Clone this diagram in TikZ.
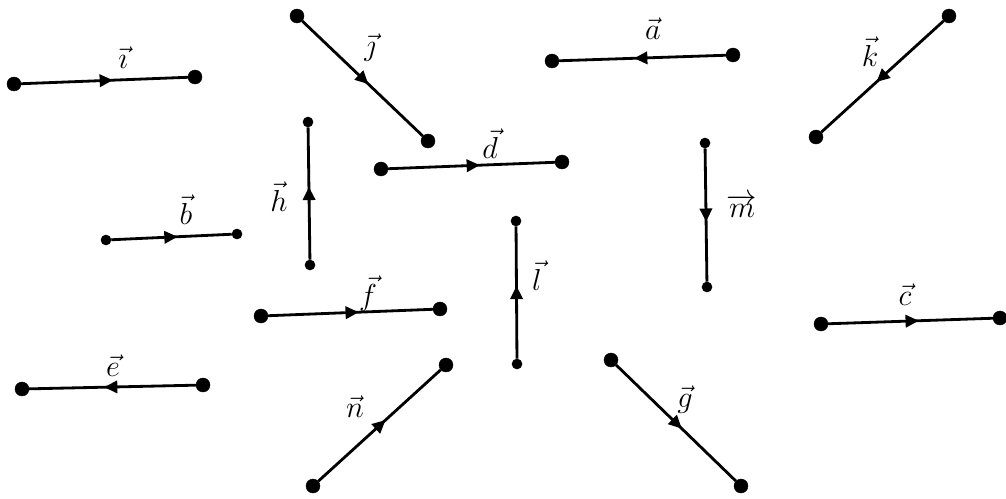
\documentclass[tikz,border=0pt]{standalone}
\usetikzlibrary{arrows.meta,decorations.markings}

\begin{document}
\begin{tikzpicture}[
	x=0.02cm, y=-0.02cm,
	vertex/.style={ circle, draw, very thin, fill, inner sep=0pt, minimum size=8pt },
	vertexs/.style={ circle, draw, very thin, fill, inner sep=0pt, minimum size=5.8pt },
	vecline/.style={ line width=1.6pt, postaction={decorate}, decoration={markings,
		mark=at position 0.55 with {\arrow{Triangle[length=7.5pt,width=7pt]}}} },
	lab/.style={ inner sep=1pt, font=\fontsize{16}{18}\selectfont }
]
\useasboundingbox (0,0) rectangle (1006,498);

\node[vertex] at (14,84) (i1) {};
\node[vertex] at (195,77) (i2) {};
\draw[vecline] (i1) to (i2);
\node[lab] at (123,58) (li) {$\vec{\imath}$};

\node[vertex] at (297,16) (j1) {};
\node[vertex] at (428,141) (j2) {};
\draw[vecline] (j1) to (j2);
\node[lab] at (370,48) (lj) {$\vec{\jmath}$};

\node[vertex] at (733,55) (a1) {};
\node[vertex] at (552,61) (a2) {};
\draw[vecline] (a1) to (a2);
\node[lab] at (653,29) (la) {$\vec{a}$};

\node[vertex] at (949,16) (k1) {};
\node[vertex] at (816,137) (k2) {};
\draw[vecline] (k1) to (k2);
\node[lab] at (870,52) (lk) {$\vec{k}$};

\node[vertexs] at (310,265) (h1) {};
\node[vertexs] at (308,122) (h2) {};
\draw[vecline] (h1) to (h2);
\node[lab] at (279,197) (lh) {$\vec{h}$};

\node[vertex] at (381,169) (d1) {};
\node[vertex] at (562,162) (d2) {};
\draw[vecline] (d1) to (d2);
\node[lab] at (490,144) (ld) {$\vec{d}$};

\node[vertexs] at (106,240) (b1) {};
\node[vertexs] at (237,234) (b2) {};
\draw[vecline] (b1) to (b2);
\node[lab] at (186,210) (lb) {$\vec{b}$};

\node[vertexs] at (705,143) (m1) {};
\node[vertexs] at (707,287) (m2) {};
\draw[vecline] (m1) to (m2);
\node[lab] at (742,206) (lm) {$\overrightarrow{m}$};

\node[vertexs] at (517,364) (l1) {};
\node[vertexs] at (516,221) (l2) {};
\draw[vecline] (l1) to (l2);
\node[lab] at (537,276) (ll) {$\vec{l}$};

\node[vertex] at (261,316) (f1) {};
\node[vertex] at (440,309) (f2) {};
\draw[vecline] (f1) to (f2);
\node[lab] at (368,294) (lf) {$\vec{f}$};

\node[vertex] at (821,324) (c1) {};
\node[vertex] at (1000,318) (c2) {};
\draw[vecline] (c1) to (c2);
\node[lab] at (905,295) (lc) {$\vec{c}$};

\node[vertex] at (203,385) (e1) {};
\node[vertex] at (22,389) (e2) {};
\draw[vecline] (e1) to (e2);
\node[lab] at (113,366) (le) {$\vec{e}$};

\node[vertex] at (313,486) (n1) {};
\node[vertex] at (446,365) (n2) {};
\draw[vecline] (n1) to (n2);
\node[lab] at (355,407) (ln) {$\vec{n}$};

\node[vertex] at (611,360) (g1) {};
\node[vertex] at (741,486) (g2) {};
\draw[vecline] (g1) to (g2);
\node[lab] at (685,400) (lg) {$\vec{g}$};

\end{tikzpicture}
\end{document}
